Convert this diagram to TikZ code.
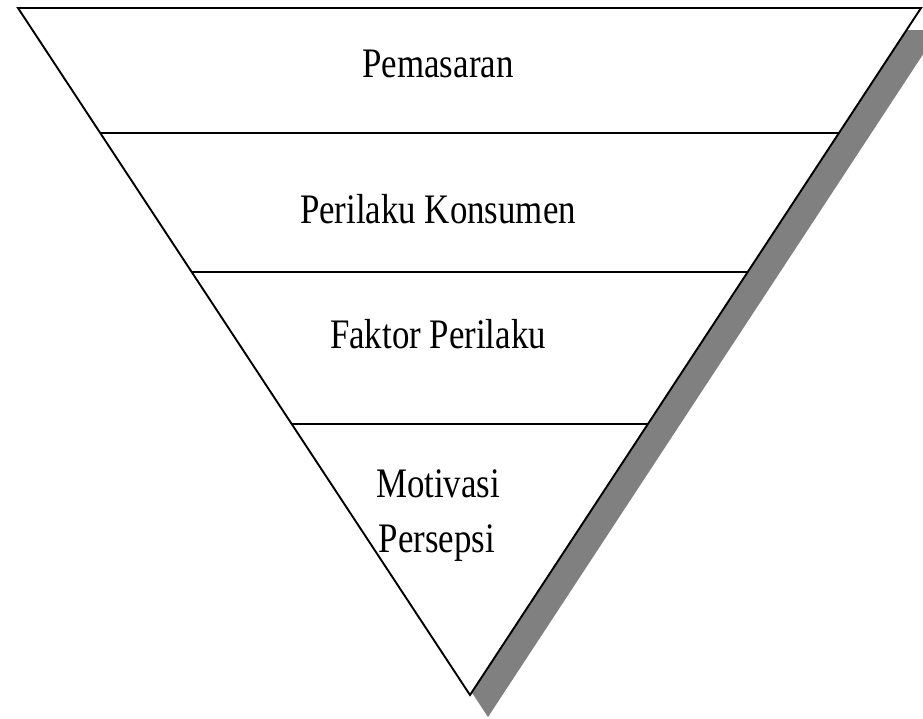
\documentclass[tikz,border=0pt]{standalone}
\usepackage{fontspec}
\setmainfont{Liberation Serif}[FakeStretch=0.83]
\usetikzlibrary{calc}
\definecolor{shadowgray}{RGB}{128,128,128}
\begin{document}
\begin{tikzpicture}[x=1pt,y=-1pt,
  lbl/.style={font=\fontsize{42}{55}\selectfont, anchor=base, inner sep=0pt},
  edge/.style={line width=1.9pt, black, line join=miter}]
\useasboundingbox (0,0) rectangle (923,718);
\clip (0,0) rectangle (923,718);
\fill[white] (0,0) rectangle (923,718);
\coordinate (A) at (18,8);
\coordinate (B) at (921,8);
\coordinate (C) at (470,695);
% shadow
\fill[shadowgray] ([shift={(18,22)}]A) -- ([shift={(18,22)}]B) -- ([shift={(18,22)}]C) -- cycle;
% triangle
\filldraw[edge, fill=white] (A) -- (B) -- (C) -- cycle;
% dividers
\coordinate (L1) at ($(A)!0.182!(C)$);
\coordinate (R1) at ($(B)!0.182!(C)$);
\coordinate (L2) at ($(A)!0.3843!(C)$);
\coordinate (R2) at ($(B)!0.3843!(C)$);
\coordinate (L3) at ($(A)!0.6055!(C)$);
\coordinate (R3) at ($(B)!0.6055!(C)$);
\draw[edge] (L1) -- (R1);
\draw[edge] (L2) -- (R2);
\draw[edge] (L3) -- (R3);
% labels
\node[lbl] (pem) at (438,77) {Pemasaran};
\node[lbl] (pk) at (438,223) {Perilaku Konsumen};
\node[lbl] (fp) at (438,348) {Faktor Perilaku};
\node[lbl] (mot) at (438,497) {Motivasi};
\node[lbl] (per) at (437,552) {Persepsi};
\end{tikzpicture}
\end{document}
